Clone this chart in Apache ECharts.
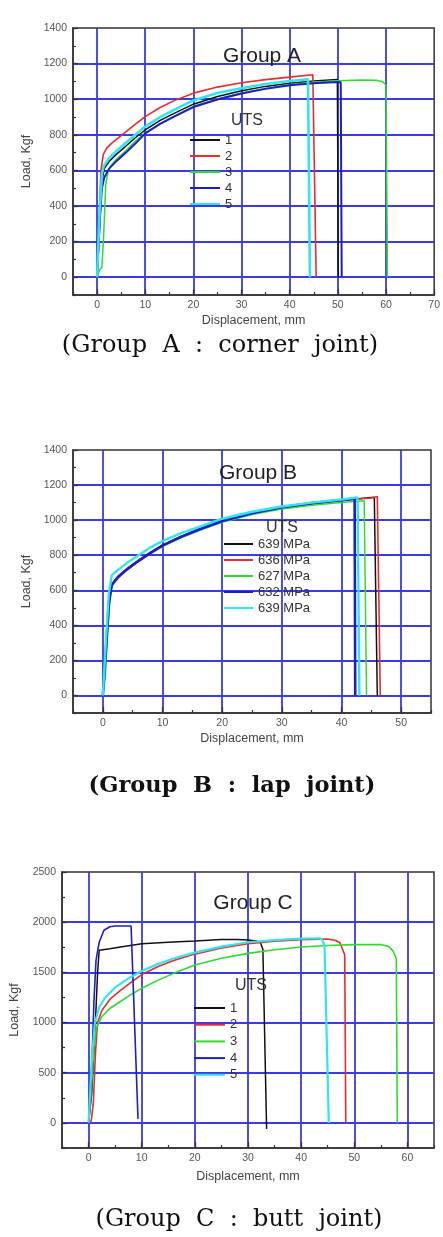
<!DOCTYPE html>
<html><head><meta charset="utf-8">
<script src="https://cdn.jsdelivr.net/npm/echarts@6/dist/echarts.min.js"></script>
<style>html,body{margin:0;padding:0;background:#fff}#c{width:443px;height:1237px}</style>
</head><body><div id="c"></div>
<script>
// ---------- Group A (corner joint) ----------
const groupA_1 = [[0,0],[0.5,250],[1,540],[1.5,612],[2.5,650],[4,690],[6,737],[8,785],[10,827],[13,880],[16,920],[20,972],[25,1015],[30,1048],[35,1072],[40,1090],[45,1102],[49.9,1110],[50.1,0]];
const groupA_2 = [[0,0],[0.4,300],[0.8,600],[1.3,690],[2,725],[3,752],[5,795],[7.5,850],[10,902],[13,952],[16,992],[20,1034],[25,1068],[30,1092],[35,1110],[40,1124],[44.8,1137],[45.5,0]];
const groupA_3 = [[0,0],[0.5,40],[1,55],[1.4,250],[1.8,520],[2.3,598],[3,632],[4,662],[6,712],[8,765],[10,810],[13,862],[16,905],[20,960],[25,1002],[30,1035],[35,1062],[40,1082],[45,1095],[50,1104],[55,1108],[58,1107],[59.3,1098],[60,1080],[60.3,0]];
const groupA_4 = [[0,0],[0.5,300],[1,500],[1.5,560],[2.5,610],[4,652],[6,700],[8,752],[10,808],[13,860],[16,902],[20,956],[25,998],[30,1032],[35,1058],[40,1078],[45,1090],[50,1096],[50.6,1095],[50.8,0]];
const groupA_5 = [[0,0],[0.5,350],[1,580],[1.4,625],[2.5,668],[4,708],[6,755],[8,802],[10,846],[13,898],[16,940],[20,993],[25,1035],[30,1062],[35,1085],[40,1102],[43.8,1112],[44.2,0]];
const legendA = ['1','2','3','4','5'];

// ---------- Group B (lap joint) ----------
const groupB_1 = [[0,0],[0.5,250],[1,520],[1.5,630],[2.5,675],[4,720],[6,770],[8,815],[10,857],[13,905],[16,945],[20,995],[25,1040],[30,1072],[35,1095],[40,1113],[45.5,1130],[45.8,1128],[46,0]];
const groupB_2 = [[0,0],[0.5,250],[1,530],[1.5,635],[2.5,680],[4,722],[6,772],[8,817],[10,858],[13,905],[16,945],[20,995],[25,1038],[30,1070],[35,1093],[40,1112],[45,1126],[46,1135],[46.3,1128],[46.5,0]];
const groupB_3 = [[0,0],[0.4,100],[0.8,350],[1.3,600],[1.8,645],[2.5,672],[4,715],[6,765],[8,810],[10,850],[13,898],[16,938],[20,988],[25,1032],[30,1063],[35,1085],[40,1100],[43.8,1110],[44,1108],[44.2,0]];
const groupB_4 = [[0,0],[0.5,250],[1,520],[1.5,630],[2.5,672],[4,718],[6,768],[8,813],[10,855],[13,903],[16,945],[20,995],[25,1040],[30,1073],[35,1097],[40,1114],[42.2,1122],[42.3,0]];
const groupB_5 = [[0,0],[0.5,300],[1,580],[1.5,685],[2.5,715],[4,755],[6,800],[8,845],[10,880],[13,925],[16,960],[20,1008],[25,1048],[30,1078],[35,1100],[40,1118],[42.7,1130],[42.8,1128],[43,0]];
const legendB = ['639 MPa','636 MPa','627 MPa','632 MPa','639 MPa'];

// ---------- Group C (butt joint) ----------
const groupC_1 = [[0,0],[0.6,300],[1.2,900],[1.7,1500],[2,1720],[2.3,1735],[4,1735],[6,1752],[10,1785],[15,1800],[20,1812],[25,1828],[28,1828],[30,1822],[31.5,1812],[32.3,1800],[32.8,1730],[33.5,-60]];
const groupC_2 = [[0,0],[0.5,20],[0.9,200],[1.3,700],[1.7,1000],[2.5,1120],[4,1230],[6,1320],[8,1400],[10,1478],[13,1555],[16,1618],[20,1682],[25,1742],[30,1786],[35,1810],[40,1825],[45,1832],[46.5,1818],[47.3,1795],[48.2,1675],[48.4,0]];
const groupC_3 = [[0,0],[0.5,300],[1,750],[1.5,950],[2.5,1060],[4,1140],[6,1210],[8,1280],[10,1341],[13,1420],[16,1490],[20,1573],[25,1640],[30,1689],[35,1725],[40,1752],[45,1767],[50,1776],[55,1777],[56.5,1757],[57.3,1712],[57.9,1640],[58.1,0]];
const groupC_4 = [[0,0],[0.3,200],[0.7,700],[1,1200],[1.4,1620],[2,1800],[2.9,1920],[4,1955],[5,1962],[8,1962],[8.2,1955],[9.3,40]];
const groupC_5 = [[0,0],[0.3,300],[0.7,700],[1.2,1000],[2,1150],[3,1240],[5,1350],[7.5,1440],[10,1513],[13,1582],[16,1638],[20,1697],[25,1757],[30,1800],[35,1822],[40,1836],[43.5,1840],[44,1822],[44.4,1765],[45.2,0]];
const legendC = ['1','2','3','4','5'];

// axis extents
const xRangeA = [-5, 70], yRangeA = [-100, 1400];
const xRangeB = [-5, 55], yRangeB = [-100, 1400];
const xRangeC = [-5, 65], yRangeC = [-250, 2500];

const titles = ['Group A', 'Group B', 'Group C'];
const captions = ['(Group  A  :  corner  joint)', '(Group  B  :  lap  joint)', '(Group  C  :  butt  joint)'];

const colors = ['#111111', '#ee2a2a', '#2edc2e', '#1c1cc8', '#2ee6f2'];
const GRIDBLUE = '#3a3ae6';
const SANS = '"Liberation Sans", Arial, sans-serif';

const panels = [
  { series: [groupA_1, groupA_2, groupA_3, groupA_4, groupA_5], labels: legendA, xr: xRangeA, yr: yRangeA,
    xSplit: 7, ySplit: 7, xMinor: 5, yMinor: 100,
    grid: {left: 73, top: 28, width: 362, height: 267},
    widths: [1.5, 1.6, 1.5, 2, 2.6], yNameGap: 32, xNameGap: 19,
    title: [262, 56], uts: [247, 121], legend: {left: 189, top: 133}, itemGap: 2, itemWidth: 30, caption: [220, 346], capFont: '24px "DejaVu Serif"' },
  { series: [groupB_1, groupB_2, groupB_3, groupB_4, groupB_5], labels: legendB, xr: xRangeB, yr: yRangeB,
    xSplit: 6, ySplit: 7, xMinor: 5, yMinor: 100,
    grid: {left: 73, top: 450, width: 358, height: 263},
    widths: [1.5, 1.6, 1.5, 2.6, 2.4], yNameGap: 32, xNameGap: 19,
    title: [258, 473], uts: [282, 528], legend: {left: 223, top: 537}, itemGap: 2, itemWidth: 29, caption: [232, 786], capFont: 'bold 22.5px "DejaVu Serif"' },
  { series: [groupC_1, groupC_2, groupC_3, groupC_4, groupC_5], labels: legendC, xr: xRangeC, yr: yRangeC,
    xSplit: 7, ySplit: 5, xMinor: 5, yMinor: 250,
    grid: {left: 58, top: 872, width: 376, height: 276},
    widths: [1.5, 1.6, 1.6, 1.6, 2.2], yNameGap: 41, xNameGap: 22,
    title: [253, 903], uts: [251, 986], legend: {left: 193, top: 1001}, itemGap: 2.7, itemWidth: 31, caption: [239, 1220], capFont: '24px "DejaVu Serif"' }
];

const option = { animation: false, grid: [], xAxis: [], yAxis: [], series: [], legend: [], graphic: [] };

panels.forEach((p, i) => {
  option.grid.push(Object.assign({ show: true, borderColor: '#333', borderWidth: 1.5, backgroundColor: 'transparent' }, p.grid));
  option.xAxis.push({
    type: 'value', gridIndex: i, min: p.xr[0], max: p.xr[1], splitNumber: p.xSplit, position: 'bottom',
    name: 'Displacement, mm', nameLocation: 'middle', nameGap: p.xNameGap,
    nameTextStyle: { color: '#444', fontSize: 12.5, fontFamily: SANS },
    axisLine: { show: true, onZero: false, lineStyle: { color: '#333', width: 1.5 } },
    axisTick: { show: true, inside: true, length: 6, lineStyle: { color: '#333', width: 1.2 } },
    axisLabel: { show: true, margin: 5, color: '#555', fontSize: 10.5, fontFamily: SANS, showMinLabel: false, showMaxLabel: p.xr[1] % 10 === 0, formatter: v => String(v) },
    splitLine: { show: true, showMinLine: false, showMaxLine: false, lineStyle: { color: GRIDBLUE, width: 1.8 } }
  });
  option.xAxis.push({
    type: 'value', gridIndex: i, min: p.xr[0], max: p.xr[1], interval: p.xMinor, position: 'bottom',
    axisLine: { show: false, onZero: false }, axisLabel: { show: false }, splitLine: { show: false },
    axisTick: { show: true, inside: true, length: 3, lineStyle: { color: '#333', width: 1.2 } }
  });
  option.yAxis.push({
    type: 'value', gridIndex: i, min: p.yr[0], max: p.yr[1], splitNumber: p.ySplit, position: 'left',
    name: 'Load, Kgf', nameLocation: 'middle', nameGap: p.yNameGap,
    nameTextStyle: { color: '#444', fontSize: 12.5, fontFamily: SANS },
    axisLine: { show: true, onZero: false, lineStyle: { color: '#333', width: 1.5 } },
    axisTick: { show: true, inside: true, length: 5, lineStyle: { color: '#333', width: 1.2 } },
    axisLabel: { show: true, margin: 6, color: '#555', fontSize: 10.5, fontFamily: SANS, showMinLabel: false, formatter: v => String(v) },
    splitLine: { show: true, showMinLine: false, showMaxLine: false, lineStyle: { color: GRIDBLUE, width: 1.8 } }
  });
  option.yAxis.push({
    type: 'value', gridIndex: i, min: p.yr[0], max: p.yr[1], interval: p.yMinor, position: 'left',
    axisLine: { show: false, onZero: false }, axisLabel: { show: false }, splitLine: { show: false },
    axisTick: { show: true, inside: true, length: 3, lineStyle: { color: '#333', width: 1.2 } }
  });
  const names = [];
  p.series.forEach((d, k) => {
    const nm = 'P' + i + '_' + k;
    names.push(nm);
    option.series.push({
      type: 'line', name: nm, xAxisIndex: 2 * i, yAxisIndex: 2 * i, data: d,
      symbol: 'none', showSymbol: false, silent: true, z: 3,
      lineStyle: { color: colors[k], width: p.widths[k] }, itemStyle: { color: colors[k] }
    });
  });
  const labels = p.labels;
  option.legend.push({
    orient: 'vertical', left: p.legend.left, top: p.legend.top, padding: 0,
    itemWidth: p.itemWidth, itemHeight: 14, itemGap: p.itemGap, selectedMode: false,
    itemStyle: { color: 'transparent', borderColor: 'transparent', borderWidth: 0, opacity: 0 },
    data: names, formatter: name => labels[names.indexOf(name)],
    textStyle: { color: '#333', fontSize: 13, fontFamily: SANS, lineHeight: 14 }
  });
  option.graphic.push(
    { type: 'text', x: p.title[0], y: p.title[1], z: 10,
      style: { text: titles[i], font: '21px ' + SANS, fill: '#222', align: 'center', verticalAlign: 'middle', textAlign: 'center', textVerticalAlign: 'middle' } },
    { type: 'text', x: p.uts[0], y: p.uts[1], z: 10,
      style: { text: 'UTS', font: '16px ' + SANS, fill: '#333', align: 'center', verticalAlign: 'middle', textAlign: 'center', textVerticalAlign: 'middle' } },
    { type: 'text', x: p.caption[0], y: p.caption[1], z: 10,
      style: { text: captions[i], font: p.capFont, fill: '#111', align: 'center', verticalAlign: 'middle', textAlign: 'center', textVerticalAlign: 'middle' } }
  );
});

const chart = echarts.init(document.getElementById('c'), null, { renderer: 'canvas' });
chart.setOption(option);
</script></body></html>
